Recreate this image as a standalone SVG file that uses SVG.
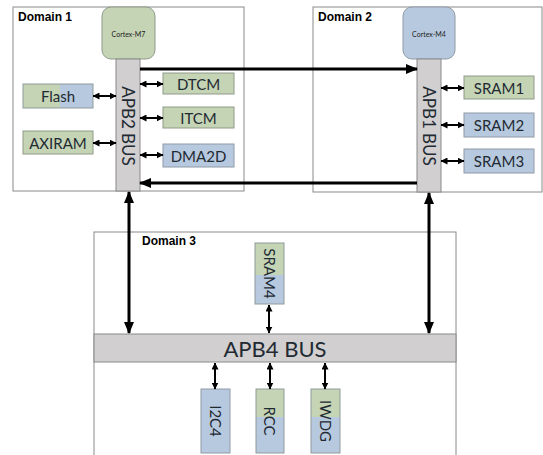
<svg xmlns="http://www.w3.org/2000/svg" width="543" height="455" viewBox="0 0 543 455">
<style>
.dom{fill:#fff;stroke:#8a8a8a;stroke-width:1}
.dl{font-family:"Liberation Sans",Arial,sans-serif;font-weight:bold;font-size:12px;fill:#000}
.g{fill:#c4d4b4;stroke:#8f9a8a;stroke-width:1}
.b{fill:#b7c9de;stroke:#8f9aa6;stroke-width:1}
.gf{fill:#c4d4b4}
.bf{fill:#b7c9de}
.ol{fill:none;stroke:#8f9a9a;stroke-width:1}
.bus{fill:#d1cfcf;stroke:#8a8a8a;stroke-width:1}
.t{font-family:Lato,"Liberation Sans",sans-serif;font-size:15px;fill:#1f2a33;text-anchor:middle;dominant-baseline:central}
.bt{font-size:17px}
.cpu{font-family:Lato,"Liberation Sans",sans-serif;font-size:7px;fill:#222;text-anchor:middle;dominant-baseline:central}
.big{stroke:#000;stroke-width:3;fill:none}
.sm{stroke:#000;stroke-width:2;fill:none}
</style>
<defs>
<marker id="ah" viewBox="0 0 12 10" refX="11" refY="5" markerWidth="12" markerHeight="10" markerUnits="userSpaceOnUse" orient="auto-start-reverse"><path d="M0,0 L12,5 L0,10 z" fill="#000"/></marker>
<marker id="as" viewBox="0 0 7 7" refX="6.5" refY="3.5" markerWidth="7" markerHeight="7" markerUnits="userSpaceOnUse" orient="auto-start-reverse"><path d="M0,0 L7,3.5 L0,7 z" fill="#000"/></marker>
</defs>

<g id="domain1">
<rect class="dom" x="13" y="7" width="231" height="184"/>
<text class="dl" x="18" y="21">Domain 1</text>
</g>
<g id="domain2">
<rect class="dom" x="313" y="7" width="229" height="185"/>
<text class="dl" x="318" y="21">Domain 2</text>
</g>
<g id="domain3">
<rect class="dom" x="94" y="232" width="362" height="226"/>
<text class="dl" x="142" y="245">Domain 3</text>
</g>

<g id="cortex-m7">
<rect class="g" x="102" y="7" width="53" height="52" rx="9"/>
<text class="cpu" x="128.5" y="34">Cortex-M7</text>
</g>
<g id="apb2">
<rect class="bus" x="116" y="59" width="24" height="132"/>
<text class="t bt" transform="translate(128,126) rotate(90)">APB2 BUS</text>
</g>
<g id="flash">
<rect class="gf" x="23" y="84" width="37" height="24"/>
<rect class="bf" x="60" y="84" width="33" height="24"/>
<rect class="ol" x="23" y="84" width="70" height="24"/>
<text class="t" x="58" y="96">Flash</text>
</g>
<g id="axiram">
<rect class="g" x="23" y="131" width="70" height="23"/>
<text class="t" x="58" y="143">AXIRAM</text>
</g>
<g id="dtcm">
<rect class="g" x="163" y="73" width="71" height="21"/>
<text class="t" x="198.5" y="84">DTCM</text>
</g>
<g id="itcm">
<rect class="g" x="163" y="107" width="71" height="21"/>
<text class="t" x="198.5" y="118">ITCM</text>
</g>
<g id="dma2d">
<rect class="b" x="163" y="144" width="71" height="23"/>
<text class="t" x="198.5" y="155.5">DMA2D</text>
</g>

<g id="cortex-m4">
<rect class="b" x="403" y="7" width="52" height="52" rx="9"/>
<text class="cpu" x="429" y="34">Cortex-M4</text>
</g>
<g id="apb1">
<rect class="bus" x="417" y="59" width="24" height="133"/>
<text class="t bt" transform="translate(429,126) rotate(90)">APB1 BUS</text>
</g>
<g id="sram1">
<rect class="g" x="464" y="76" width="70" height="23"/>
<text class="t" x="499" y="87.5">SRAM1</text>
</g>
<g id="sram2">
<rect class="b" x="464" y="113" width="70" height="24"/>
<text class="t" x="499" y="125">SRAM2</text>
</g>
<g id="sram3">
<rect class="b" x="464" y="149" width="70" height="24"/>
<text class="t" x="499" y="161">SRAM3</text>
</g>

<g id="sram4">
<rect class="gf" x="255" y="243" width="29" height="32"/>
<rect class="bf" x="255" y="275" width="29" height="29"/>
<rect class="ol" x="255" y="243" width="29" height="61"/>
<text class="t" transform="translate(269.5,273.5) rotate(90)">SRAM4</text>
</g>
<g id="apb4">
<rect class="bus" x="94" y="334" width="362" height="28"/>
<text class="t" x="275" y="348" style="font-size:22px">APB4 BUS</text>
</g>
<g id="i2c4">
<rect class="b" x="201" y="389" width="29" height="64"/>
<text class="t" transform="translate(215.5,421) rotate(90)">I2C4</text>
</g>
<g id="rcc">
<rect class="gf" x="256" y="389" width="28" height="28"/>
<rect class="bf" x="256" y="417" width="28" height="36"/>
<rect class="ol" x="256" y="389" width="28" height="64"/>
<text class="t" transform="translate(270,421) rotate(90)">RCC</text>
</g>
<g id="iwdg">
<rect class="gf" x="311" y="389" width="29" height="28"/>
<rect class="bf" x="311" y="417" width="29" height="36"/>
<rect class="ol" x="311" y="389" width="29" height="64"/>
<text class="t" transform="translate(325.5,421) rotate(90)">IWDG</text>
</g>

<g id="connectors">
<line class="big" x1="140" y1="69" x2="417" y2="69" marker-end="url(#ah)"/>
<line class="big" x1="417" y1="183" x2="140" y2="183" marker-end="url(#ah)"/>
<line class="big" x1="129" y1="192" x2="129" y2="333" marker-start="url(#ah)" marker-end="url(#ah)"/>
<line class="big" x1="429" y1="193" x2="429" y2="333" marker-start="url(#ah)" marker-end="url(#ah)"/>
<line class="sm" x1="93" y1="96" x2="116" y2="96" marker-start="url(#as)" marker-end="url(#as)"/>
<line class="sm" x1="93" y1="143" x2="116" y2="143" marker-start="url(#as)" marker-end="url(#as)"/>
<line class="sm" x1="140" y1="84" x2="163" y2="84" marker-start="url(#as)" marker-end="url(#as)"/>
<line class="sm" x1="140" y1="118" x2="163" y2="118" marker-start="url(#as)" marker-end="url(#as)"/>
<line class="sm" x1="140" y1="155" x2="163" y2="155" marker-start="url(#as)" marker-end="url(#as)"/>
<line class="sm" x1="441" y1="88" x2="464" y2="88" marker-start="url(#as)" marker-end="url(#as)"/>
<line class="sm" x1="441" y1="125" x2="464" y2="125" marker-start="url(#as)" marker-end="url(#as)"/>
<line class="sm" x1="441" y1="161" x2="464" y2="161" marker-start="url(#as)" marker-end="url(#as)"/>
<line class="sm" x1="269" y1="305" x2="269" y2="333" marker-start="url(#as)" marker-end="url(#as)"/>
<line class="sm" x1="215" y1="363" x2="215" y2="389" marker-start="url(#as)" marker-end="url(#as)"/>
<line class="sm" x1="270" y1="363" x2="270" y2="389" marker-start="url(#as)" marker-end="url(#as)"/>
<line class="sm" x1="325" y1="363" x2="325" y2="389" marker-start="url(#as)" marker-end="url(#as)"/>
</g>
</svg>
